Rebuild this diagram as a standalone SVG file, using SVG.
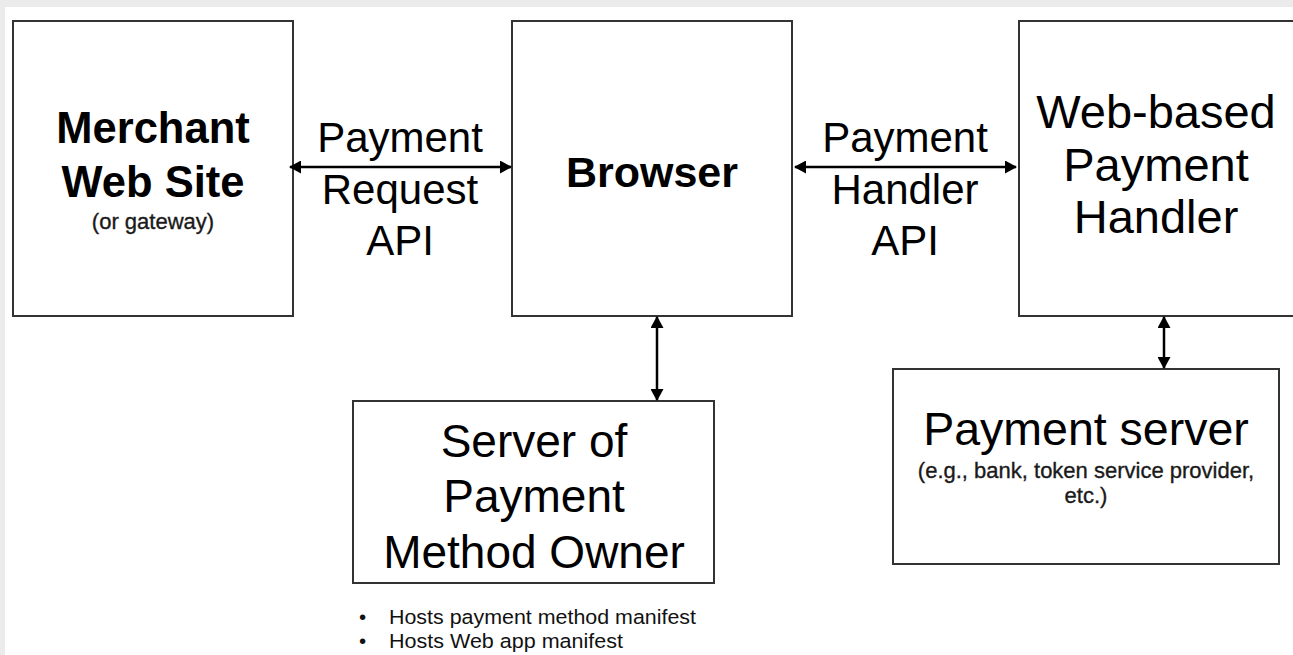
<svg xmlns="http://www.w3.org/2000/svg" width="1293" height="655" viewBox="0 0 1293 655">
<style>
.box{fill:#fff;stroke:#333;stroke-width:2}
.t{font-family:"Liberation Sans",Arial,Helvetica,sans-serif;fill:#000;text-anchor:middle}
.b{font-weight:bold}
.conn{stroke:#000;stroke-width:2.5;fill:none}
.sub{font-family:"Liberation Sans",Arial,Helvetica,sans-serif;fill:#1a1a1a;text-anchor:middle;font-size:22px;stroke:#1a1a1a;stroke-width:0.35}
.bul{font-family:"Liberation Sans",Arial,Helvetica,sans-serif;fill:#111;font-size:20.5px}
</style>
<defs>
<marker id="ah" viewBox="0 0 12 13" refX="11" refY="6.5" markerWidth="12" markerHeight="13" markerUnits="userSpaceOnUse" orient="auto-start-reverse">
<path d="M0,0 L12,6.5 L0,13 Z" fill="#000"/>
</marker>
</defs>
<rect x="0" y="0" width="1293" height="655" fill="#ebebeb"/>
<rect x="5" y="7" width="1288" height="648" fill="#fff"/>

<g id="merchant">
<rect class="box" x="13" y="21" width="280" height="295"/>
<text class="t b" x="153" y="143" font-size="43.5">Merchant</text>
<text class="t b" x="153" y="197" font-size="43.5">Web Site</text>
<text class="sub" x="153" y="229">(or gateway)</text>
</g>

<g id="browser">
<rect class="box" x="512" y="21" width="280" height="295"/>
<text class="t b" x="652" y="187" font-size="43">Browser</text>
</g>

<g id="handler">
<rect class="box" x="1019" y="21" width="290" height="295"/>
<text class="t" x="1156" y="128" font-size="47">Web-based</text>
<text class="t" x="1156" y="181" font-size="47">Payment</text>
<text class="t" x="1156" y="233" font-size="47">Handler</text>
</g>

<g id="pmo">
<rect class="box" x="353" y="401" width="361" height="182"/>
<text class="t" x="534" y="457" font-size="46">Server of</text>
<text class="t" x="534" y="512" font-size="46">Payment</text>
<text class="t" x="534" y="568" font-size="46">Method Owner</text>
</g>

<g id="pmo-notes">
<text class="bul" x="359" y="624">•</text>
<text class="bul" x="389" y="624" textLength="307" lengthAdjust="spacingAndGlyphs">Hosts payment method manifest</text>
<text class="bul" x="359" y="648">•</text>
<text class="bul" x="389" y="648" textLength="234" lengthAdjust="spacingAndGlyphs">Hosts Web app manifest</text>
</g>

<g id="payserver">
<rect class="box" x="893" y="369" width="386" height="195"/>
<text class="t" x="1086" y="445" font-size="46.5">Payment server</text>
<text class="sub" x="1086" y="478">(e.g., bank, token service provider,</text>
<text class="sub" x="1086" y="503">etc.)</text>
</g>

<g id="connectors">
<line class="conn" x1="290" y1="167" x2="511" y2="167" marker-start="url(#ah)" marker-end="url(#ah)"/>
<line class="conn" x1="795" y1="167" x2="1016" y2="167" marker-start="url(#ah)" marker-end="url(#ah)"/>
<line class="conn" x1="657" y1="317" x2="657" y2="400" marker-start="url(#ah)" marker-end="url(#ah)"/>
<line class="conn" x1="1164" y1="317" x2="1164" y2="368" marker-start="url(#ah)" marker-end="url(#ah)"/>
<text class="t" x="400" y="152" font-size="42">Payment</text>
<text class="t" x="400" y="204" font-size="42">Request</text>
<text class="t" x="400" y="255" font-size="42">API</text>
<text class="t" x="905" y="152" font-size="42">Payment</text>
<text class="t" x="905" y="204" font-size="42">Handler</text>
<text class="t" x="905" y="255" font-size="42">API</text>
</g>
</svg>
